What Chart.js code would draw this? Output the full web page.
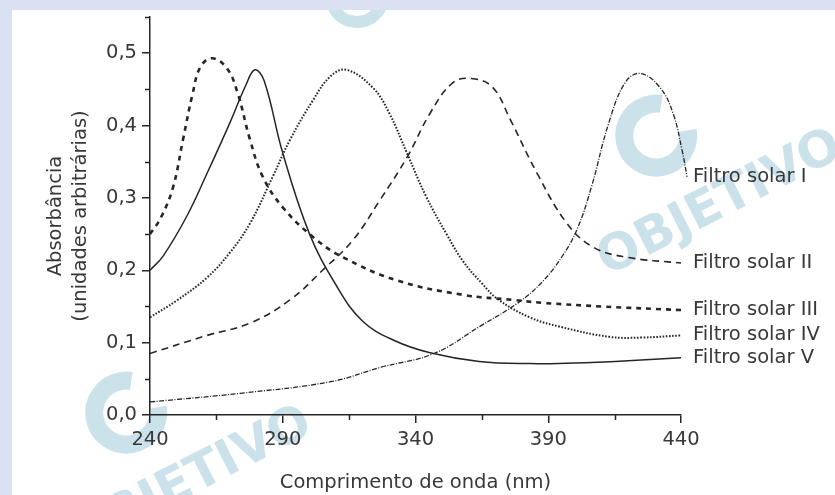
<!DOCTYPE html>
<html>
<head>
<meta charset="utf-8">
<script src="https://cdn.jsdelivr.net/npm/chart.js@4.4.1/dist/chart.umd.min.js"></script>
<style>
  html, body { margin: 0; padding: 0; background: #d9e1f2; overflow: hidden; }
  #wrap { position: absolute; left: 12px; top: 10px; width: 823px; height: 485px; background: #fff; }
</style>
</head>
<body>
<div id="wrap"><canvas id="chart"></canvas></div>
<script>
// DATA
var names = ['Filtro solar I', 'Filtro solar II', 'Filtro solar III', 'Filtro solar IV', 'Filtro solar V'];

var nmI  = [240, 274, 308, 327, 347, 364, 379, 388, 395, 400.8, 406.5, 412.5, 418.9, 424.6, 432, 437, 440.4, 442.3];
var absI = [0.018, 0.030, 0.046, 0.066, 0.085, 0.122, 0.156, 0.185, 0.218, 0.256, 0.318, 0.400, 0.459, 0.472, 0.453, 0.417, 0.366, 0.329];

var nmII  = [240, 261.5, 277.7, 292.7, 305, 316.5, 326.6, 336.8, 345.5, 354, 361, 369, 375.6, 385.8, 397, 406.9, 419.6, 440];
var absII = [0.085, 0.110, 0.127, 0.159, 0.200, 0.242, 0.297, 0.356, 0.417, 0.459, 0.465, 0.453, 0.409, 0.334, 0.265, 0.232, 0.218, 0.210];

var nmIII  = [240, 244, 248.7, 252.4, 256, 259, 263.4, 269, 273, 277.7, 282.5, 290, 301.4, 312.7, 333, 358, 376.7, 388, 410, 440];
var absIII = [0.250, 0.272, 0.315, 0.380, 0.443, 0.481, 0.493, 0.479, 0.445, 0.380, 0.329, 0.287, 0.246, 0.218, 0.186, 0.166, 0.159, 0.155, 0.150, 0.145];

var nmIV  = [240, 250, 261.5, 270, 277.7, 286.3, 292.7, 301.4, 308, 314, 324, 330, 337, 344, 352, 358, 365, 371, 383, 394.4, 413, 425, 440];
var absIV = [0.135, 0.158, 0.190, 0.224, 0.265, 0.330, 0.380, 0.435, 0.468, 0.477, 0.452, 0.418, 0.360, 0.302, 0.248, 0.212, 0.182, 0.160, 0.135, 0.122, 0.108, 0.107, 0.110];

var nmV  = [240, 245, 253.9, 261.5, 270, 276, 279.5, 283, 290, 300, 310, 320, 332, 345.5, 364, 383, 400, 420, 440];
var absV = [0.200, 0.220, 0.275, 0.334, 0.403, 0.455, 0.477, 0.462, 0.362, 0.251, 0.180, 0.130, 0.103, 0.086, 0.074, 0.071, 0.072, 0.075, 0.079];

var xTicks = [240, 290, 340, 390, 440];
var xMinor = [265, 315, 365, 415];
var yTicks = [0, 0.1, 0.2, 0.3, 0.4, 0.5];
var yTickLabels = ['0,0', '0,1', '0,2', '0,3', '0,4', '0,5'];
var yMinor = [0.05, 0.15, 0.25, 0.35, 0.45, 0.55];

var textColor = '#383838';
var lineColor = '#262626';
var fontFam = '"DejaVu Sans", sans-serif';

function pts(xs, ys) {
  return xs.map(function (x, i) { return { x: x, y: ys[i] }; });
}

// minor ticks on both axes (shorter than the major ones)
var minorTicks = {
  id: 'minorTicks',
  afterDraw: function (chart) {
    var ctx = chart.ctx, x = chart.scales.x, y = chart.scales.y;
    ctx.save();
    ctx.strokeStyle = lineColor;
    ctx.lineWidth = 1.5;
    ctx.beginPath();
    xMinor.forEach(function (v) {
      var px = Math.round(x.getPixelForValue(v)) + 0.5;
      ctx.moveTo(px, y.bottom);
      ctx.lineTo(px, y.bottom + 5);
    });
    yMinor.forEach(function (v) {
      var py = Math.round(y.getPixelForValue(v)) + 0.5;
      ctx.moveTo(x.left, py);
      ctx.lineTo(x.left - 5, py);
    });
    ctx.stroke();
    ctx.restore();
  }
};

// series names written at the end of each curve
var endLabels = {
  id: 'endLabels',
  afterDatasetsDraw: function (chart) {
    var ctx = chart.ctx, xs = chart.scales.x;
    ctx.save();
    ctx.font = '19.5px ' + fontFam;
    ctx.fillStyle = textColor;
    ctx.textBaseline = 'middle';
    ctx.textAlign = 'left';
    chart.data.datasets.forEach(function (ds, i) {
      var p = chart.getDatasetMeta(i).data;
      var last = p[p.length - 1];
      ctx.fillText(ds.label, xs.right + 12, last.y);
    });
    ctx.restore();
  }
};

// light "OBJETIVO" watermarks behind everything
var watermark = {
  id: 'watermark',
  beforeDraw: function (chart) {
    var ctx = chart.ctx;
    var marks = [[170, 455], [700, 178]];
    ctx.save();
    ctx.fillStyle = '#cce2eb';
    ctx.strokeStyle = '#cce2eb';
    marks.forEach(function (m) {
      ctx.save();
      ctx.translate(m[0], m[1]);
      ctx.rotate(-0.47);
      ctx.font = 'bold 50px ' + fontFam;
      ctx.textAlign = 'center';
      ctx.textBaseline = 'middle';
      ctx.fillText('OBJETIVO', 0, 18);
      ctx.lineWidth = 18;
      ctx.beginPath();
      ctx.arc(-26, -72, 32, 0.3, Math.PI * 1.7);
      ctx.stroke();
      ctx.restore();
    });
    ctx.lineWidth = 12;
    ctx.beginPath();
    ctx.arc(345, -14, 26, 0.2, Math.PI - 0.2);
    ctx.stroke();
    ctx.restore();
  }
};

var datasets = [
  { label: names[0], data: pts(nmI, absI), borderWidth: 1.3, borderDash: [5, 1.5, 1, 1.5], clip: false },
  { label: names[1], data: pts(nmII, absII), borderWidth: 1.6, borderDash: [7, 5] },
  { label: names[2], data: pts(nmIII, absIII), borderWidth: 2.6, borderDash: [5, 5] },
  { label: names[3], data: pts(nmIV, absIV), borderWidth: 2, borderDash: [1.6, 1.6] },
  { label: names[4], data: pts(nmV, absV), borderWidth: 1.5 }
];
datasets.forEach(function (d) {
  d.borderColor = lineColor;
  d.pointRadius = 0;
  d.fill = false;
  d.tension = 0.4;
});

Chart.defaults.font.family = fontFam;
Chart.defaults.font.size = 19.5;
Chart.defaults.color = textColor;

new Chart(document.getElementById('chart'), {
  type: 'line',
  data: { datasets: datasets },
  options: {
    responsive: true,
    maintainAspectRatio: false,
    animation: false,
    layout: { padding: { left: 0, top: 7, right: 154, bottom: 0 } },
    plugins: { legend: { display: false }, tooltip: { enabled: false } },
    scales: {
      x: {
        type: 'linear',
        min: 240,
        bounds: 'data',
        afterDataLimits: function (s) { s.max = 440; },
        afterBuildTicks: function (s) { s.ticks = xTicks.map(function (v) { return { value: v }; }); },
        afterFit: function (s) { s.height = 80; },
        border: { color: lineColor, width: 1.5 },
        grid: { drawOnChartArea: false, tickLength: 8, color: lineColor, lineWidth: 1.5 },
        ticks: { padding: 5, color: textColor, maxRotation: 0 },
        title: { display: true, text: 'Comprimento de onda (nm)', color: textColor, padding: { top: 0, bottom: 0 } }
      },
      y: {
        type: 'linear',
        min: 0,
        max: 0.55,
        afterBuildTicks: function (s) { s.ticks = yTicks.map(function (v) { return { value: v }; }); },
        afterFit: function (s) { s.width = 138; s.paddingTop = 0; s.paddingBottom = 0; },
        border: { color: lineColor, width: 1.5 },
        grid: { drawOnChartArea: false, tickLength: 8, color: lineColor, lineWidth: 1.5 },
        ticks: {
          padding: 5,
          color: textColor,
          callback: function (v, i) { return yTickLabels[i]; }
        },
        title: {
          display: true,
          text: ['Absorbância', '(unidades arbitrárias)'],
          color: textColor,
          font: { lineHeight: 1.3 },
          padding: { top: 31, bottom: 0 }
        }
      }
    }
  },
  plugins: [watermark, minorTicks, endLabels]
});
</script>
</body>
</html>
